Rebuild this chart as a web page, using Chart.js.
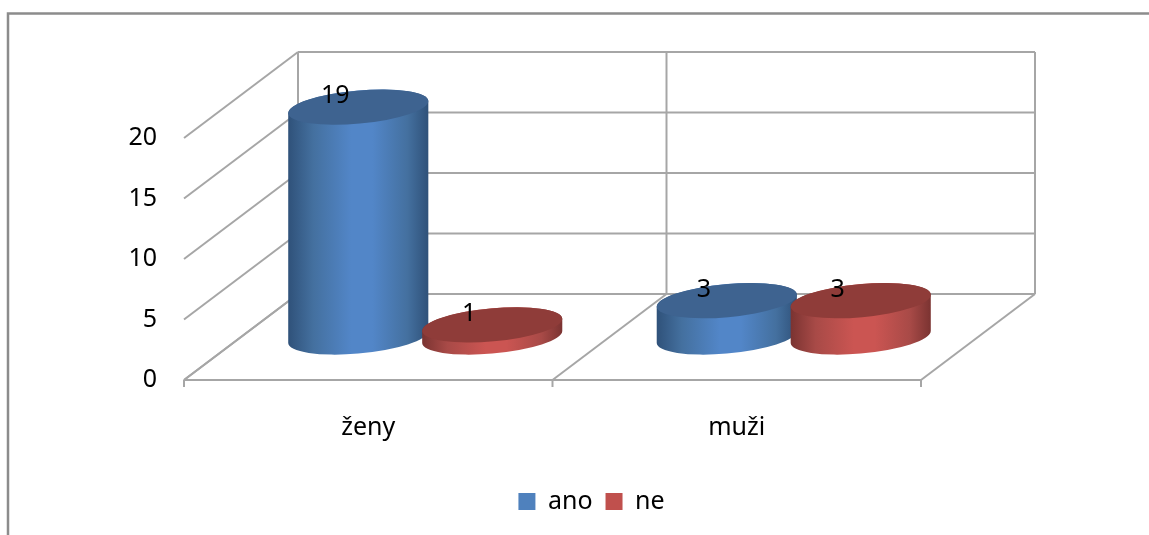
<!DOCTYPE html>
<html>
<head>
<meta charset="utf-8">
<script src="https://cdn.jsdelivr.net/npm/chart.js@4"></script>
<style>
body{margin:0;background:#fff;overflow:hidden;}
canvas{display:block;}
</style>
</head>
<body>
<canvas id="chart" width="1149" height="535"></canvas>
<script>
/* data */
const categories = ["ženy","muži"];
const anoValues = [19,3];
const neValues = [1,3];
const yTicks = [0,5,10,15,20];

/* 3d look */
const depthX = 114;
const depthY = 86;
const gridColor = "#a6a6a6";
const fontName = "Noto Sans";
const fontSize = 25;
const tilt = -0.09;
const blueShades = {edge:"#2f5179",mix:"#44709f",mid:"#5286c8",top:"#3e6390"};
const redShades = {edge:"#7a3331",mix:"#a84a47",mid:"#cb5552",top:"#8f3c39"};

function line(ctx,x1,y1,x2,y2){
ctx.beginPath();
ctx.moveTo(x1,y1);
ctx.lineTo(x2,y2);
ctx.stroke();
}

/* walls, floor and ticks */
function drawWalls(chart){

let ctx = chart.ctx;
let xs = chart.scales.x;
let ys = chart.scales.y;
let half = (xs.getPixelForValue(1) - xs.getPixelForValue(0)) / 2;
let left = xs.getPixelForValue(0) - half;
let right = xs.getPixelForValue(1) + half;

ctx.save();
ctx.strokeStyle = gridColor;
ctx.lineWidth = 2;

yTicks.forEach(v=>{
let y = ys.getPixelForValue(v);
line(ctx,left,y,left+depthX,y-depthY);
line(ctx,left+depthX,y-depthY,right+depthX,y-depthY);
});

// bottom edge, depth lines on the floor
let y0 = ys.getPixelForValue(0);
let yTop = ys.getPixelForValue(yTicks[yTicks.length-1]);
line(ctx,left,y0,right,y0);

[left,left+half*2,right].forEach(x=>{
line(ctx,x,y0,x+depthX,y0-depthY);
line(ctx,x+depthX,y0-depthY,x+depthX,yTop-depthY);
line(ctx,x,y0,x,y0+7);
});

ctx.restore();
}

/* one cylinder from a bar element */
function drawCylinder(ctx,el,shades){

let a = el.width / 2;
let b = a * 0.235;
let cx = el.x + depthX / 2;
let yTop = el.y - depthY / 2;
let yBase = el.base - depthY / 2;
let t0 = Math.atan2(-b * Math.sin(tilt), a * Math.cos(tilt));

let grad = ctx.createLinearGradient(cx-a,0,cx+a,0);
grad.addColorStop(0,shades.edge);
grad.addColorStop(0.18,shades.mix);
grad.addColorStop(0.45,shades.mid);
grad.addColorStop(0.6,shades.mid);
grad.addColorStop(0.85,shades.mix);
grad.addColorStop(1,shades.edge);

ctx.beginPath();
ctx.ellipse(cx,yBase,a,b,tilt,t0,t0+Math.PI);
ctx.ellipse(cx,yTop,a,b,tilt,t0+Math.PI,t0+Math.PI*2);
ctx.closePath();
ctx.fillStyle = grad;
ctx.fill();

ctx.beginPath();
ctx.ellipse(cx,yTop,a,b,tilt,0,Math.PI*2);
ctx.fillStyle = shades.top;
ctx.fill();
}

const cylinderPlugin = {
id:"cylinders",

beforeDraw(chart){
let ctx = chart.ctx;
ctx.save();
ctx.strokeStyle = "#8c8c8c";
ctx.lineWidth = 2.5;
ctx.beginPath();
ctx.moveTo(8,chart.height);
ctx.lineTo(8,13.5);
ctx.lineTo(chart.width,13.5);
ctx.stroke();
ctx.restore();
},

afterLayout(chart){
// legend sits right of the plot centre
chart.legend.left += 131;
chart.legend.right += 131;
},

beforeDatasetsDraw(chart){

let ctx = chart.ctx;
drawWalls(chart);

let shades = [blueShades,redShades];
chart.data.datasets.forEach((ds,i)=>{
chart.getDatasetMeta(i).data.forEach(el=>drawCylinder(ctx,el,shades[i]));
});

// value labels
ctx.save();
ctx.fillStyle = "#000";
ctx.font = fontSize + "px '" + fontName + "'";
ctx.textAlign = "center";
ctx.textBaseline = "middle";
chart.data.datasets.forEach((ds,i)=>{
chart.getDatasetMeta(i).data.forEach((el,j)=>{
ctx.fillText(ds.data[j],el.x+depthX/2-23,el.y-depthY/2-11);
});
});
ctx.restore();

return false;
}
};

new Chart(document.getElementById("chart"),{
type:"bar",
data:{
labels:categories,
datasets:[
{label:"ano",data:anoValues,backgroundColor:"#4f81bd",barPercentage:1.05,categoryPercentage:0.727},
{label:"ne",data:neValues,backgroundColor:"#c0504d",barPercentage:1.05,categoryPercentage:0.727}
]
},
plugins:[cylinderPlugin],
options:{
responsive:false,
animation:false,
layout:{padding:{top:138,right:228,left:0,bottom:11}},
plugins:{
tooltip:{enabled:false},
legend:{
position:"bottom",
labels:{color:"#000",font:{family:fontName,size:fontSize},boxWidth:17,boxHeight:17,padding:13}
}
},
scales:{
x:{
grid:{display:false},
border:{display:false},
ticks:{color:"#000",font:{family:fontName,size:fontSize},padding:25,maxRotation:0},
afterFit(s){s.height = 96;}
},
y:{
min:0,
max:20,
grid:{display:false},
border:{display:false},
afterBuildTicks(s){s.ticks = yTicks.map(v=>({value:v}));},
ticks:{color:"#000",font:{family:fontName,size:fontSize},padding:19},
afterFit(s){s.width = 184;}
}
}
}
});
</script>
</body>
</html>
